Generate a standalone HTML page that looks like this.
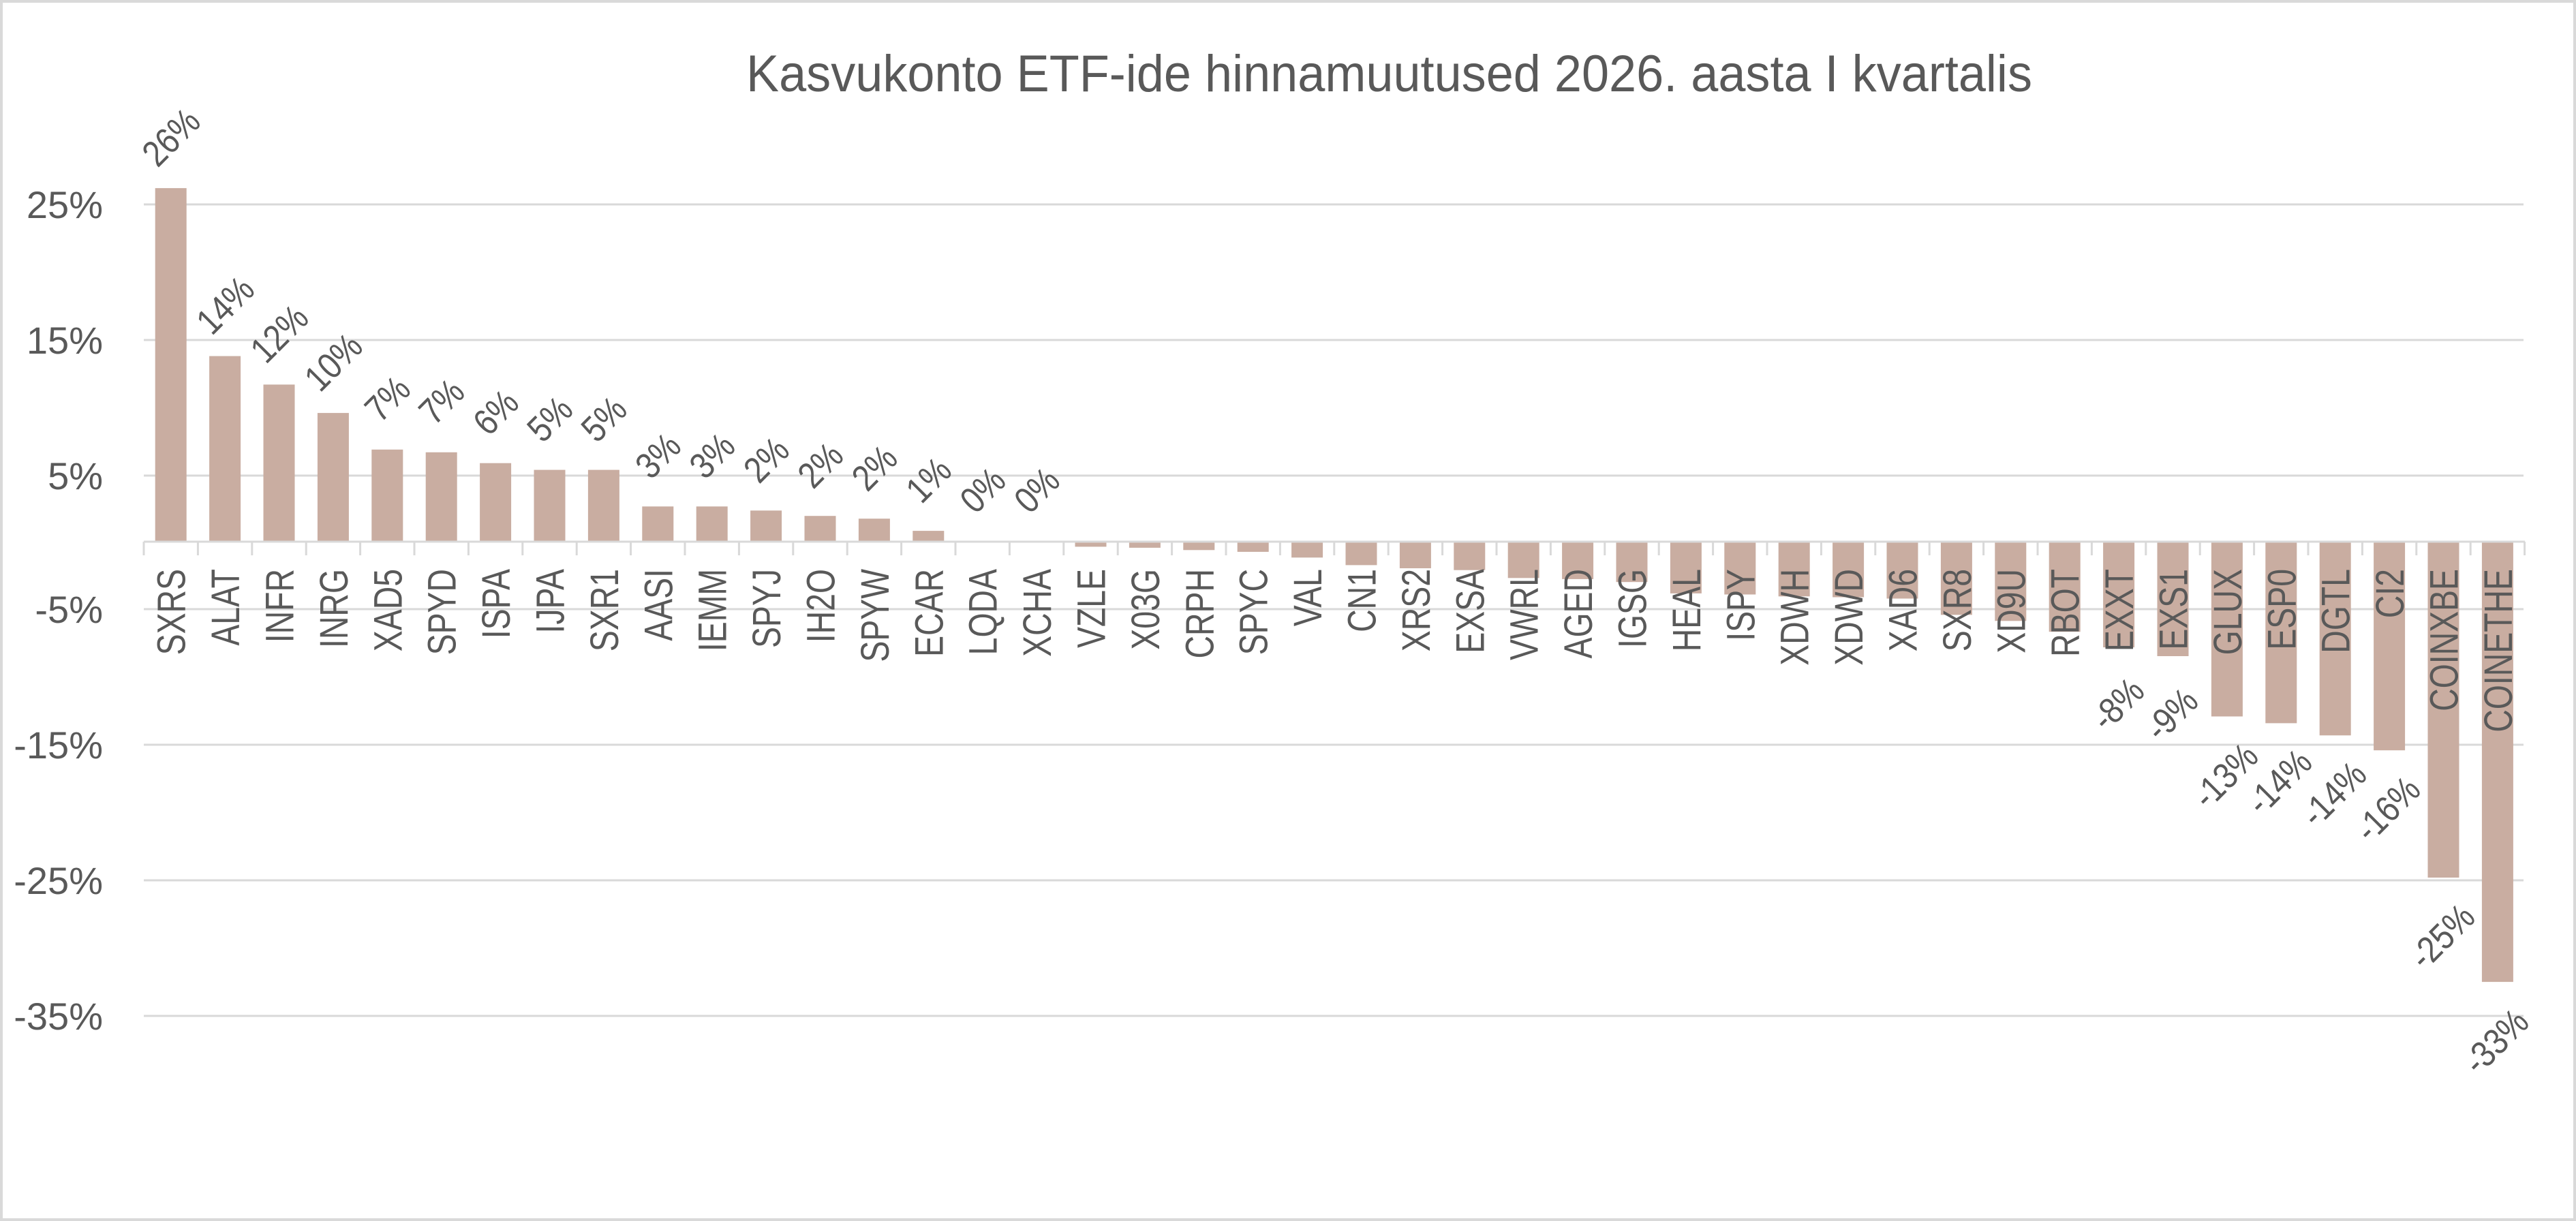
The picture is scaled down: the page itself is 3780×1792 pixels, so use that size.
<!DOCTYPE html>
<html><head><meta charset="utf-8"><style>
html,body{margin:0;padding:0;background:#fff;}
svg{display:block;}
text{font-family:"Liberation Sans",Arial,sans-serif;fill:#595959;}
</style></head><body>
<svg width="3780" height="1792" viewBox="0 0 3780 1792" xmlns="http://www.w3.org/2000/svg">
<rect x="2" y="2" width="3776" height="1788" fill="#fff" stroke="#d9d9d9" stroke-width="4"/>
<text x="1095" y="134" font-size="76" textLength="1887" lengthAdjust="spacingAndGlyphs">Kasvukonto ETF-ide hinnamuutused 2026. aasta I kvartalis</text>
<g stroke="#d9d9d9" stroke-width="3">
<line x1="211" y1="300" x2="3703" y2="300"/>
<line x1="211" y1="499" x2="3703" y2="499"/>
<line x1="211" y1="698" x2="3703" y2="698"/>
<line x1="211" y1="894" x2="3703" y2="894"/>
<line x1="211" y1="1093" x2="3703" y2="1093"/>
<line x1="211" y1="1292" x2="3703" y2="1292"/>
<line x1="211" y1="1491" x2="3703" y2="1491"/>
</g>
<g font-size="56" text-anchor="end">
<text x="151" y="320">25%</text>
<text x="151" y="519">15%</text>
<text x="151" y="718">5%</text>
<text x="151" y="914">-5%</text>
<text x="151" y="1113">-15%</text>
<text x="151" y="1312">-25%</text>
<text x="151" y="1511">-35%</text>
</g>
<g fill="#c9ada1">
<rect x="227.7" y="276.1" width="46" height="518.9"/>
<rect x="307.1" y="522.6" width="46" height="272.4"/>
<rect x="386.5" y="564.4" width="46" height="230.6"/>
<rect x="465.9" y="606.1" width="46" height="188.9"/>
<rect x="545.3" y="659.8" width="46" height="135.2"/>
<rect x="624.7" y="663.8" width="46" height="131.2"/>
<rect x="704.1" y="679.7" width="46" height="115.3"/>
<rect x="783.5" y="689.6" width="46" height="105.4"/>
<rect x="862.9" y="689.6" width="46" height="105.4"/>
<rect x="942.3" y="743.3" width="46" height="51.7"/>
<rect x="1021.7" y="743.3" width="46" height="51.7"/>
<rect x="1101.1" y="749.3" width="46" height="45.7"/>
<rect x="1180.5" y="757.2" width="46" height="37.8"/>
<rect x="1259.9" y="761.2" width="46" height="33.8"/>
<rect x="1339.3" y="779.1" width="46" height="15.9"/>
<rect x="1418.7" y="794" width="46" height="1"/>
<rect x="1498.1" y="794.5" width="46" height="0.5"/>
<rect x="1577.5" y="795" width="46" height="7.4"/>
<rect x="1656.9" y="795" width="46" height="8.9"/>
<rect x="1736.3" y="795" width="46" height="12.3"/>
<rect x="1815.7" y="795" width="46" height="14.9"/>
<rect x="1895.1" y="795" width="46" height="23.3"/>
<rect x="1974.5" y="795" width="46" height="34.4"/>
<rect x="2053.9" y="795" width="46" height="39"/>
<rect x="2133.3" y="795" width="46" height="41.7"/>
<rect x="2212.7" y="795" width="46" height="53.3"/>
<rect x="2292.1" y="795" width="46" height="54.9"/>
<rect x="2371.5" y="795" width="46" height="59.2"/>
<rect x="2450.9" y="795" width="46" height="75.9"/>
<rect x="2530.3" y="795" width="46" height="77.5"/>
<rect x="2609.7" y="795" width="46" height="80.3"/>
<rect x="2689.1" y="795" width="46" height="81.5"/>
<rect x="2768.5" y="795" width="46" height="83.5"/>
<rect x="2847.9" y="795" width="46" height="107.4"/>
<rect x="2927.3" y="795" width="46" height="116.3"/>
<rect x="3006.7" y="795" width="46" height="132.2"/>
<rect x="3086.1" y="795" width="46" height="155.1"/>
<rect x="3165.5" y="795" width="46" height="168"/>
<rect x="3244.9" y="795" width="46" height="256.5"/>
<rect x="3324.3" y="795" width="46" height="266.4"/>
<rect x="3403.7" y="795" width="46" height="284.3"/>
<rect x="3483.1" y="795" width="46" height="306.2"/>
<rect x="3562.5" y="795" width="46" height="493"/>
<rect x="3641.9" y="795" width="46" height="646.1"/>
</g>
<g stroke="#d9d9d9" stroke-width="3">
<line x1="211" y1="795" x2="3705" y2="795"/>
<line x1="211" y1="795" x2="211" y2="815"/><line x1="290.4" y1="795" x2="290.4" y2="815"/><line x1="369.8" y1="795" x2="369.8" y2="815"/><line x1="449.2" y1="795" x2="449.2" y2="815"/><line x1="528.6" y1="795" x2="528.6" y2="815"/><line x1="608" y1="795" x2="608" y2="815"/><line x1="687.4" y1="795" x2="687.4" y2="815"/><line x1="766.8" y1="795" x2="766.8" y2="815"/><line x1="846.2" y1="795" x2="846.2" y2="815"/><line x1="925.6" y1="795" x2="925.6" y2="815"/><line x1="1005" y1="795" x2="1005" y2="815"/><line x1="1084.4" y1="795" x2="1084.4" y2="815"/><line x1="1163.8" y1="795" x2="1163.8" y2="815"/><line x1="1243.2" y1="795" x2="1243.2" y2="815"/><line x1="1322.6" y1="795" x2="1322.6" y2="815"/><line x1="1402" y1="795" x2="1402" y2="815"/><line x1="1481.4" y1="795" x2="1481.4" y2="815"/><line x1="1560.8" y1="795" x2="1560.8" y2="815"/><line x1="1640.2" y1="795" x2="1640.2" y2="815"/><line x1="1719.6" y1="795" x2="1719.6" y2="815"/><line x1="1799" y1="795" x2="1799" y2="815"/><line x1="1878.4" y1="795" x2="1878.4" y2="815"/><line x1="1957.8" y1="795" x2="1957.8" y2="815"/><line x1="2037.2" y1="795" x2="2037.2" y2="815"/><line x1="2116.6" y1="795" x2="2116.6" y2="815"/><line x1="2196" y1="795" x2="2196" y2="815"/><line x1="2275.4" y1="795" x2="2275.4" y2="815"/><line x1="2354.8" y1="795" x2="2354.8" y2="815"/><line x1="2434.2" y1="795" x2="2434.2" y2="815"/><line x1="2513.6" y1="795" x2="2513.6" y2="815"/><line x1="2593" y1="795" x2="2593" y2="815"/><line x1="2672.4" y1="795" x2="2672.4" y2="815"/><line x1="2751.8" y1="795" x2="2751.8" y2="815"/><line x1="2831.2" y1="795" x2="2831.2" y2="815"/><line x1="2910.6" y1="795" x2="2910.6" y2="815"/><line x1="2990" y1="795" x2="2990" y2="815"/><line x1="3069.4" y1="795" x2="3069.4" y2="815"/><line x1="3148.8" y1="795" x2="3148.8" y2="815"/><line x1="3228.2" y1="795" x2="3228.2" y2="815"/><line x1="3307.6" y1="795" x2="3307.6" y2="815"/><line x1="3387" y1="795" x2="3387" y2="815"/><line x1="3466.4" y1="795" x2="3466.4" y2="815"/><line x1="3545.8" y1="795" x2="3545.8" y2="815"/><line x1="3625.2" y1="795" x2="3625.2" y2="815"/><line x1="3704.6" y1="795" x2="3704.6" y2="815"/>
</g>
<g font-size="58" text-anchor="end">
<text transform="translate(271.7,835) rotate(-90) scale(0.8,1)">SXRS</text>
<text transform="translate(351.1,835) rotate(-90) scale(0.8,1)">ALAT</text>
<text transform="translate(430.5,835) rotate(-90) scale(0.8,1)">INFR</text>
<text transform="translate(509.9,835) rotate(-90) scale(0.8,1)">INRG</text>
<text transform="translate(589.3,835) rotate(-90) scale(0.8,1)">XAD5</text>
<text transform="translate(668.7,835) rotate(-90) scale(0.8,1)">SPYD</text>
<text transform="translate(748.1,835) rotate(-90) scale(0.8,1)">ISPA</text>
<text transform="translate(827.5,835) rotate(-90) scale(0.8,1)">IJPA</text>
<text transform="translate(906.9,835) rotate(-90) scale(0.8,1)">SXR1</text>
<text transform="translate(986.3,835) rotate(-90) scale(0.8,1)">AASI</text>
<text transform="translate(1065.7,835) rotate(-90) scale(0.8,1)">IEMM</text>
<text transform="translate(1145.1,835) rotate(-90) scale(0.8,1)">SPYJ</text>
<text transform="translate(1224.5,835) rotate(-90) scale(0.8,1)">IH2O</text>
<text transform="translate(1303.9,835) rotate(-90) scale(0.8,1)">SPYW</text>
<text transform="translate(1383.3,835) rotate(-90) scale(0.8,1)">ECAR</text>
<text transform="translate(1462.7,835) rotate(-90) scale(0.8,1)">LQDA</text>
<text transform="translate(1542.1,835) rotate(-90) scale(0.8,1)">XCHA</text>
<text transform="translate(1621.5,835) rotate(-90) scale(0.8,1)">VZLE</text>
<text transform="translate(1700.9,835) rotate(-90) scale(0.8,1)">X03G</text>
<text transform="translate(1780.3,835) rotate(-90) scale(0.8,1)">CRPH</text>
<text transform="translate(1859.7,835) rotate(-90) scale(0.8,1)">SPYC</text>
<text transform="translate(1939.1,835) rotate(-90) scale(0.8,1)">VAL</text>
<text transform="translate(2018.5,835) rotate(-90) scale(0.8,1)">CN1</text>
<text transform="translate(2097.9,835) rotate(-90) scale(0.8,1)">XRS2</text>
<text transform="translate(2177.3,835) rotate(-90) scale(0.8,1)">EXSA</text>
<text transform="translate(2256.7,835) rotate(-90) scale(0.8,1)">VWRL</text>
<text transform="translate(2336.1,835) rotate(-90) scale(0.8,1)">AGED</text>
<text transform="translate(2415.5,835) rotate(-90) scale(0.8,1)">IGSG</text>
<text transform="translate(2494.9,835) rotate(-90) scale(0.8,1)">HEAL</text>
<text transform="translate(2574.3,835) rotate(-90) scale(0.8,1)">ISPY</text>
<text transform="translate(2653.7,835) rotate(-90) scale(0.8,1)">XDWH</text>
<text transform="translate(2733.1,835) rotate(-90) scale(0.8,1)">XDWD</text>
<text transform="translate(2812.5,835) rotate(-90) scale(0.8,1)">XAD6</text>
<text transform="translate(2891.9,835) rotate(-90) scale(0.8,1)">SXR8</text>
<text transform="translate(2971.3,835) rotate(-90) scale(0.8,1)">XD9U</text>
<text transform="translate(3050.7,835) rotate(-90) scale(0.8,1)">RBOT</text>
<text transform="translate(3130.1,835) rotate(-90) scale(0.8,1)">EXXT</text>
<text transform="translate(3209.5,835) rotate(-90) scale(0.8,1)">EXS1</text>
<text transform="translate(3288.9,835) rotate(-90) scale(0.8,1)">GLUX</text>
<text transform="translate(3368.3,835) rotate(-90) scale(0.8,1)">ESP0</text>
<text transform="translate(3447.7,835) rotate(-90) scale(0.8,1)">DGTL</text>
<text transform="translate(3527.1,835) rotate(-90) scale(0.8,1)">CI2</text>
<text transform="translate(3606.5,835) rotate(-90) scale(0.8,1)">COINXBE</text>
<text transform="translate(3685.9,835) rotate(-90) scale(0.8,1)">COINETHE</text>
</g>
<g font-size="54" text-anchor="middle">
<text transform="translate(250.7,201) rotate(-45) scale(0.86,1)" dy="19">26%</text>
<text transform="translate(330.1,447.6) rotate(-45) scale(0.86,1)" dy="19">14%</text>
<text transform="translate(409.5,489.4) rotate(-45) scale(0.86,1)" dy="19">12%</text>
<text transform="translate(488.9,531.1) rotate(-45) scale(0.86,1)" dy="19">10%</text>
<text transform="translate(568.3,584.8) rotate(-45) scale(0.86,1)" dy="19">7%</text>
<text transform="translate(647.7,588.8) rotate(-45) scale(0.86,1)" dy="19">7%</text>
<text transform="translate(727.1,604.7) rotate(-45) scale(0.86,1)" dy="19">6%</text>
<text transform="translate(806.5,614.6) rotate(-45) scale(0.86,1)" dy="19">5%</text>
<text transform="translate(885.9,614.6) rotate(-45) scale(0.86,1)" dy="19">5%</text>
<text transform="translate(965.3,668.3) rotate(-45) scale(0.86,1)" dy="19">3%</text>
<text transform="translate(1044.7,668.3) rotate(-45) scale(0.86,1)" dy="19">3%</text>
<text transform="translate(1124.1,674.3) rotate(-45) scale(0.86,1)" dy="19">2%</text>
<text transform="translate(1203.5,682.2) rotate(-45) scale(0.86,1)" dy="19">2%</text>
<text transform="translate(1282.9,686.2) rotate(-45) scale(0.86,1)" dy="19">2%</text>
<text transform="translate(1362.3,704) rotate(-45) scale(0.86,1)" dy="19">1%</text>
<text transform="translate(1441.7,719) rotate(-45) scale(0.86,1)" dy="19">0%</text>
<text transform="translate(1521.1,719) rotate(-45) scale(0.86,1)" dy="19">0%</text>
<text transform="translate(3107,1033) rotate(-45) scale(0.86,1)" dy="19">-8%</text>
<text transform="translate(3186,1048) rotate(-45) scale(0.86,1)" dy="19">-9%</text>
<text transform="translate(3265,1138) rotate(-45) scale(0.86,1)" dy="19">-13%</text>
<text transform="translate(3344,1147) rotate(-45) scale(0.86,1)" dy="19">-14%</text>
<text transform="translate(3424,1165) rotate(-45) scale(0.86,1)" dy="19">-14%</text>
<text transform="translate(3503,1187) rotate(-45) scale(0.86,1)" dy="19">-16%</text>
<text transform="translate(3583,1374) rotate(-45) scale(0.86,1)" dy="19">-25%</text>
<text transform="translate(3662,1528) rotate(-45) scale(0.86,1)" dy="19">-33%</text>
</g>
</svg>
</body></html>
